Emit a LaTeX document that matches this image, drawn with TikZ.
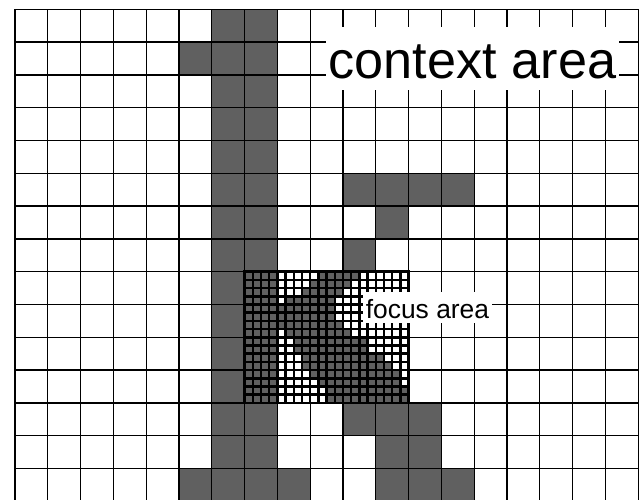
\documentclass[tikz,border=0pt]{standalone}
\usepackage{fontspec}
\setmainfont{Liberation Sans}
\definecolor{cellgray}{RGB}{96,96,96}
\begin{document}
\begin{tikzpicture}[x=1cm,y=1cm,
  cellfill/.style={fill=cellgray},
  coarse/.style={line width=1.1pt},
  fine/.style={line width=2.2pt},
  labelbox/.style={fill=white, inner ysep=0pt, anchor=base}]
\useasboundingbox (-0.457,0.2835) rectangle (19.055,-14.93);
\clip (-0.457,0.2835) rectangle (19.055,-14.93);
\foreach \r/\cs in {0/{6,7},1/{5,6,7},2/{6,7},3/{6,7},4/{6,7},5/{6,7,10,11,12,13},
  6/{6,7,11},7/{6,7,10},8/{6},9/{6},10/{6},11/{6},12/{6,7,10,11,12},
  13/{6,7,11,12},14/{5,6,7,8,11,12,13}}
  \foreach \c in \cs \fill[cellfill] (\c,-\r) rectangle ++(1,-1);
\draw[coarse] (0,-16) grid (19,0);
\fill[white] (7,-8) rectangle (12,-12);
\foreach \r/\a/\b in {0/0/3,0/9/13,1/0/3,1/8/12,2/0/3,2/7/11,3/0/3,3/5/10,
  4/0/10,5/0/10,6/0/11,7/0/3,7/5/12,8/0/3,8/6/14,9/0/3,9/6/14,
  10/0/3,10/7/16,11/0/3,11/7/17,12/0/3,12/8/18,13/0/3,13/9/18,
  14/0/3,14/10/19,15/0/3,15/10/19}
  \fill[cellfill] ({7+\a/4},{-8-\r/4}) rectangle ({7+\b/4+0.25},{-8-\r/4-0.25});
\draw[fine,step=0.25] (7,-8) grid (12,-12);
\draw[fine] (7,-8) rectangle (12,-12);
\node[labelbox, font=\fontsize{45.3}{50}\selectfont, text height=1.555cm, text depth=0.366cm, inner xsep=0.1cm] (context) at (13.948,-2.095) {context area};
\node[labelbox, font=\fontsize{22.9}{26}\selectfont, text height=0.811cm, text depth=0.152cm, inner xsep=0.09cm] (focus) at (12.576,-9.421) {focus area};
\end{tikzpicture}
\end{document}
